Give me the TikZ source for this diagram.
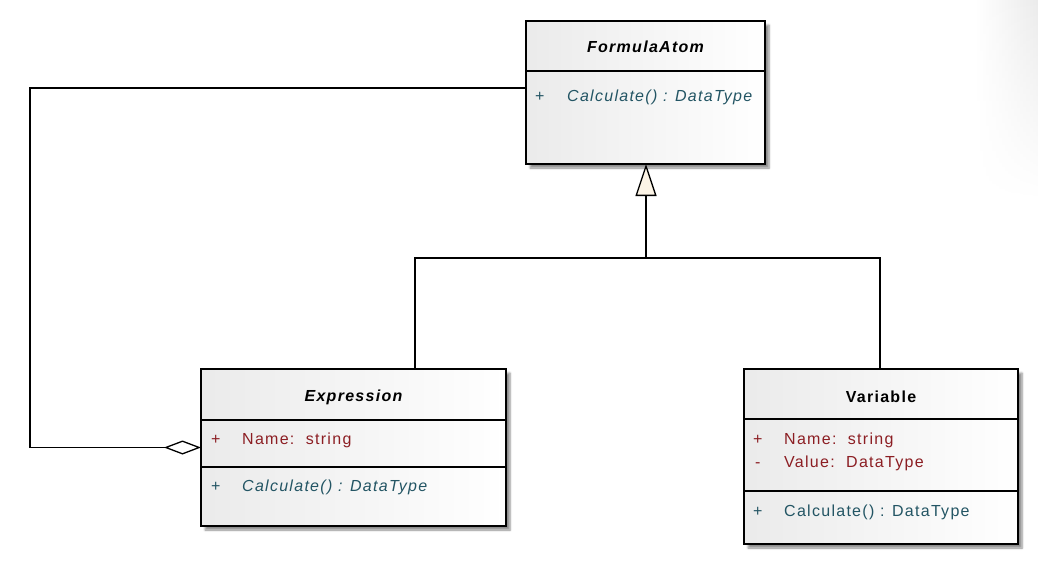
\documentclass[tikz,border=0pt]{standalone}
\usepackage{fontspec}
\setmainfont{Liberation Sans}[LetterSpace=8]
\usetikzlibrary{arrows.meta,shadows.blur,calc,fadings}
\definecolor{opcol}{RGB}{35,85,100}
\definecolor{attcol}{RGB}{140,30,35}
\definecolor{triFill}{RGB}{252,244,230}
\tikzset{
  classbox/.style={draw=black, line width=1.4pt, rectangle, inner sep=0pt, outer sep=0pt, anchor=north west,
    left color=gray!16, right color=white,
    blur shadow={shadow xshift=4pt, shadow yshift=-4pt, shadow blur steps=6, shadow blur extra rounding=0pt, shadow opacity=45}},
  divider/.style={line width=1.2pt},
  title/.style={font=\fontsize{16}{19}\selectfont\bfseries, anchor=base},
  op/.style={font=\fontsize{16}{19}\selectfont, text=opcol, anchor=base west, inner sep=0pt},
  att/.style={font=\fontsize{16}{19}\selectfont, text=attcol, anchor=base west, inner sep=0pt},
  conn/.style={line width=1.3pt, black},
  gen/.style={conn, -{Triangle[open, fill=triFill, length=32pt, width=21pt, line width=1.3pt]}},
  agg/.style={conn, {Diamond[open, fill=white, length=37pt, width=14pt, line width=1.3pt]}-},
}
\begin{document}
\begin{tikzpicture}[x=1pt,y=-1pt]
\useasboundingbox (0,0) rectangle (1038,565);
% corner fade
\shade[left color=white, right color=gray!16, path fading=south] (975,0) rectangle (1038,200);

% FormulaAtom
\node[classbox, minimum width=239pt, minimum height=143pt] (fa) at (526,21) {};
\draw[divider] (526,71) -- (765,71);
\node[title, font=\fontsize{16}{19}\selectfont\bfseries\itshape] (faT) at (645.5,52.5) {FormulaAtom};
\node[op] (faP) at (535,101.5) {+};
\node[op, font=\fontsize{16}{19}\selectfont\itshape] (faM) at (567,101.5) {Calculate() : DataType};

% Expression
\node[classbox, minimum width=305pt, minimum height=157pt] (ex) at (201,369) {};
\draw[divider] (201,420) -- (506,420);
\draw[divider] (201,467) -- (506,467);
\node[title, font=\fontsize{16}{19}\selectfont\bfseries\itshape] (exT) at (353.5,401.5) {Expression};
\node[att] (exP1) at (211,444.5) {+};
\node[att] (exA1) at (242,444.5) {Name:\ \ string};
\node[op] (exP2) at (211,491.5) {+};
\node[op, font=\fontsize{16}{19}\selectfont\itshape] (exM) at (242,491.5) {Calculate() : DataType};

% Variable
\node[classbox, minimum width=274pt, minimum height=175pt] (var) at (744,369) {};
\draw[divider] (744,419) -- (1018,419);
\draw[divider] (744,491) -- (1018,491);
\node[title] (varT) at (881,402.5) {Variable};
\node[att] (vP1) at (753,444) {+};
\node[att] (vA1) at (784,444) {Name:\ \ string};
\node[att] (vP2) at (755,467) {-};
\node[att] (vA2) at (784,467) {Value:\ \ DataType};
\node[op] (vP3) at (753,516) {+};
\node[op] (vM) at (784,516) {Calculate() : DataType};

% Generalization
\coordinate (fork) at (646,258);
\coordinate (exTop) at (415,369);
\coordinate (varTop) at (880,369);
\draw[conn] (exTop) |- (fork);
\draw[conn] (varTop) |- (fork);
\draw[gen] (fork) -- (646,164);

% Aggregation
\coordinate (leftX) at (30,0);
\coordinate (aggCorner) at (leftX |- ex.west);
\coordinate (faLeft) at (526,88);
\draw[agg] (ex.west) -- (aggCorner) |- (faLeft);
\end{tikzpicture}
\end{document}
